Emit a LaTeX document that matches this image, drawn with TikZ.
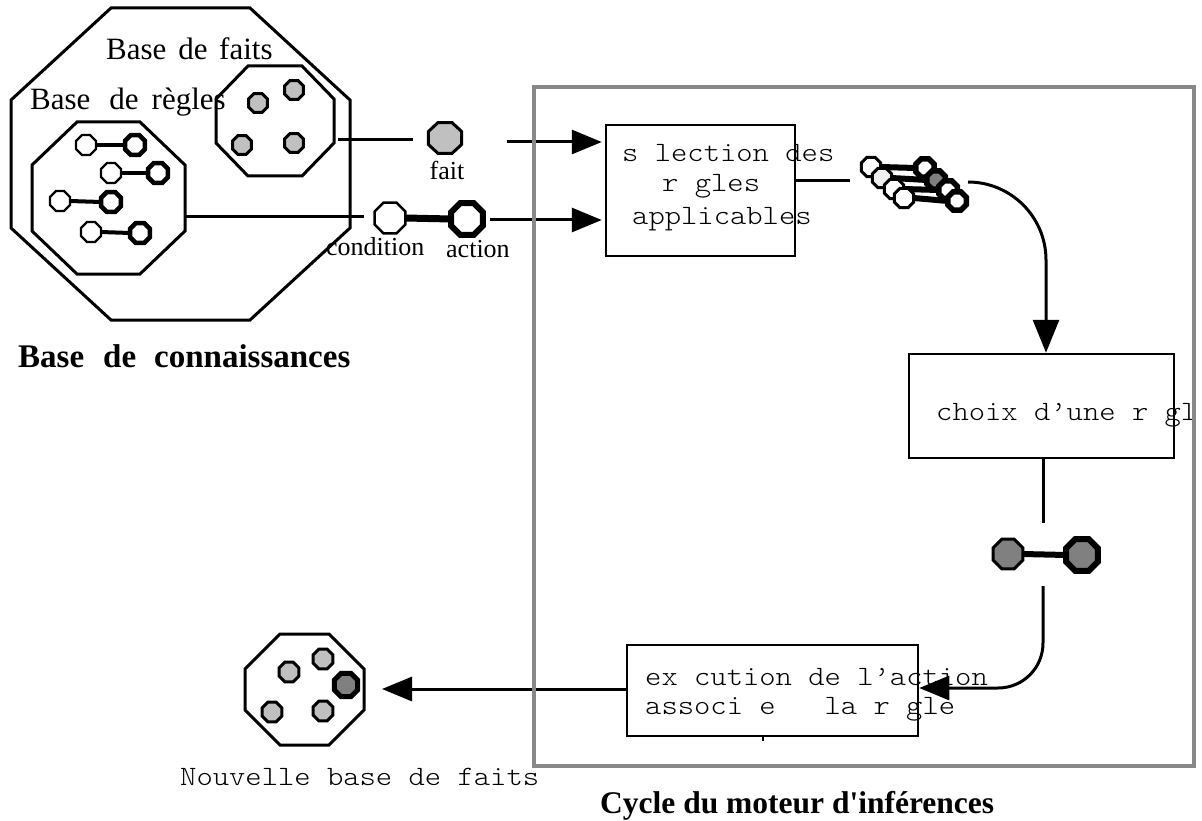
\documentclass[tikz,border=0pt]{standalone}
\usepackage{fontspec}
\setmainfont{Liberation Serif}
\setmonofont{Liberation Mono}
\newfontfamily\cour{lmmonolt10-regular.otf}[FakeStretch=1.11]
\usetikzlibrary{shapes.geometric,arrows.meta,calc}
\definecolor{lgray}{HTML}{C0C0C0}
\definecolor{dgray}{HTML}{808080}
\definecolor{fgray}{HTML}{888888}
\definecolor{vlgray}{HTML}{EEEEEE}
\newcommand\octdraw[7]{% x1 y1 x2 y2 cx cy style
  \draw[#7] ({#1+#5},#2) -- ({#3-#5},#2) -- (#3,{#2+#6}) -- (#3,{#4-#6}) -- ({#3-#5},#4) -- ({#1+#5},#4) -- (#1,{#4-#6}) -- (#1,{#2+#6}) -- cycle;}
\begin{document}
\begin{tikzpicture}[x=1pt,y=-1pt,
 oct/.style={regular polygon, regular polygon sides=8, draw, inner sep=0pt, outer sep=0pt},
 cnd/.style={oct, fill=white, line width=2.4pt, minimum size=#1},
 act/.style={oct, fill=white, line width=5pt, minimum size=#1},
 fct/.style={oct, fill=lgray, line width=3pt, minimum size=#1},
 rbar/.style={line width=#1},
 box/.style={draw, line width=2.5pt, inner sep=0pt},
 ln/.style={line width=3pt},
 arr/.style={line width=3pt, -{Triangle[length=30pt,width=24pt]}},
 octline/.style={line width=3pt, line join=miter},
 serif/.style={inner sep=0pt, font=\fontsize{31}{36}\selectfont},
 small/.style={inner sep=0pt, font=\fontsize{26}{30}\selectfont},
 bold/.style={inner sep=0pt, font=\fontsize{31.5}{36}\selectfont\bfseries},
 mono/.style={inner sep=0pt, font=\fontsize{28}{31.5}\selectfont\cour},
]
\useasboundingbox (0,0) rectangle (1202,821);
% knowledge base octagons
\octdraw{11}{8}{350}{320}{100}{92}{octline}
\octdraw{32}{122}{185}{274}{45}{43}{octline}
\octdraw{216}{66}{334}{176}{32}{33}{octline}
\node[serif, anchor=base west] (bf) at (106,60) {Base\hspace{12pt}de\hspace{11.5pt}faits};
\node[serif, anchor=base west] (br) at (30,110) {Base\hspace{19pt}de\hspace{13pt}règles};
% facts
\node[fct=20.5pt] (f1) at (258,103) {};
\node[fct=20.5pt] (f2) at (294,90) {};
\node[fct=20.5pt] (f3) at (242,145) {};
\node[fct=20.5pt] (f4) at (294,143) {};
% rules
\node[cnd=21.5pt, line width=2.2pt] (c1) at (86,145) {};
\node[act=21.6pt, line width=4.5pt] (a1) at (135,145) {};
\draw[rbar=4pt] (c1.east) -- (a1.west);
\node[cnd=21.5pt, line width=2.2pt] (c2) at (111,173) {};
\node[act=21.6pt, line width=4.5pt] (a2) at (158,173) {};
\draw[rbar=4pt] (c2.east) -- (a2.west);
\node[cnd=21.5pt, line width=2.2pt] (c3) at (60,201) {};
\node[act=21.6pt, line width=4.5pt] (a3) at (111,202) {};
\draw[rbar=4pt] (c3.east) -- (a3.west);
\node[cnd=21.5pt, line width=2.2pt] (c4) at (91,232) {};
\node[act=21.6pt, line width=4.5pt] (a4) at (140,233) {};
\draw[rbar=4pt] (c4.east) -- (a4.west);
\node[inner sep=0pt, font=\fontsize{33}{38}\selectfont\bfseries, anchor=base west] (bc) at (18,367) {Base\hspace{19pt}de\hspace{18pt}connaissances};
% fait / condition / action
\node[fct=33.5pt, xscale=1.08] (fait) at (445,138) {};
\node[small, anchor=base] (lfait) at (447,180) {fait};
\node[cnd=33.5pt, line width=2.5pt] (cond) at (390,218) {};
\node[act=34.6pt, line width=6pt] (action) at (467,219) {};
\draw[rbar=7pt] (cond.east) -- (action.west);
\node[small, anchor=base west] (lcond) at (326,255) {condition};
\node[small, anchor=base west] (lact) at (446,258) {action};
\coordinate (fR) at (338,140);
\coordinate (fE) at (413,140);
\draw[ln] (fR) -- (fE);
\coordinate (rR) at (185,217);
\coordinate (rE) at (364,217);
\draw[ln] (rR) -- (rE);
% boxes
\node[box, minimum width=189pt, minimum height=131pt] (sel) at (700.5,190.5) {};
\node[box, minimum width=265pt, minimum height=104pt] (choix) at (1041.5,406) {};
\node[box, minimum width=291pt, minimum height=91pt] (exec) at (772.5,690.5) {};
\coordinate (fa) at (507,142);
\draw[arr] (fa) -- ($(fa -| sel.west)+(-3,0)$);
\coordinate (aa) at (490,220);
\draw[arr] (aa) -- ($(aa -| sel.west)+(-3,0)$);
\node[mono, anchor=base west] (t1) at (622,162) {s lection des};
\node[mono, anchor=base west] (t2) at (662,192) {r gles};
\node[mono, anchor=base west] (t3) at (632,225) {applicables};
% rule stack
\coordinate (s1) at (795,181);
\coordinate (s2) at (850,181);
\draw[ln] (s1) -- (s2);
\node[cnd=21pt, line width=3pt] (sc1) at (871,167) {};
\node[act=20pt, line width=5.5pt] (sa1) at (925,168) {};
\draw[rbar=6pt] (sc1.east) -- (sa1.west);
\node[cnd=21pt, line width=3pt, fill=vlgray] (sc2) at (882,178) {};
\node[act=20pt, line width=5.5pt, fill=dgray] (sa2) at (936,180) {};
\draw[rbar=6pt] (sc2.east) -- (sa2.west);
\node[cnd=21pt, line width=3pt] (sc3) at (894,189) {};
\node[act=20pt, line width=5.5pt] (sa3) at (948,190) {};
\draw[rbar=6pt] (sc3.east) -- (sa3.west);
\node[cnd=21pt, line width=3pt] (sc4) at (904,198) {};
\node[act=20pt, line width=5.5pt] (sa4) at (957,201) {};
\draw[rbar=6pt] (sc4.east) -- (sa4.west);
\coordinate (k0) at (968,182);
\coordinate (k1) at (1046,260);
\draw[line width=3pt, -{Triangle[length=33pt,width=26pt]}] (k0) .. controls (1011,182) and (1046,217) .. (k1) -- (k1 |- choix.north);
% choix text (clipped at frame)
\begin{scope}
\clip (0,0) rectangle (1195,821);
\node[mono, anchor=base west] (t4) at (936,420) {choix d’une r gle};
\end{scope}
% chosen rule
\coordinate (v1) at (1043,523);
\draw[ln] (v1 |- choix.south) -- (v1);
\node[oct, fill=dgray, line width=3pt, minimum size=32pt] (dc) at (1008,554) {};
\node[oct, fill=dgray, line width=6pt, minimum size=34.6pt] (da) at (1082,555) {};
\draw[rbar=6pt] (dc.east) -- (da.west);
\coordinate (v2) at (1043,586);
\coordinate (v3) at (1043,643);
\coordinate (x1) at (998,688);
\draw[arr] (v2) -- (v3) .. controls (1043,668) and (1023,688) .. (x1) -- (x1 -| exec.east);
\node[mono, anchor=base west] (t5) at (645,685) {ex cution de l’action};
\node[mono, anchor=base west] (t6) at (645,714) {associ e\ \ \ la r gle};
\coordinate (tk) at (763,741);
\draw[line width=2pt] (tk |- exec.south) -- (tk);
% new facts base
\coordinate (nf) at (382,689);
\draw[arr] (exec.west |- nf) -- (nf);
\octdraw{245}{634}{364}{745}{35}{35}{octline}
\node[fct=21.6pt] (n1) at (289,672) {};
\node[fct=21.6pt] (n2) at (323,659) {};
\node[fct=21.6pt] (n4) at (272,712) {};
\node[fct=21.6pt] (n5) at (323,711) {};
\node[oct, fill=dgray, line width=5pt, minimum size=25.4pt] (n3) at (346,685) {};
\node[mono, anchor=base west] (t7) at (180,785) {Nouvelle base de faits};
% inference engine frame
\draw[line width=4.5pt, fgray] (534,87) rectangle (1194,766);
\node[bold, anchor=base west] (cy) at (600,813) {Cycle du moteur d{\addfontfeature{Ligatures=TeXOff}'}inférences};
\end{tikzpicture}
\end{document}
